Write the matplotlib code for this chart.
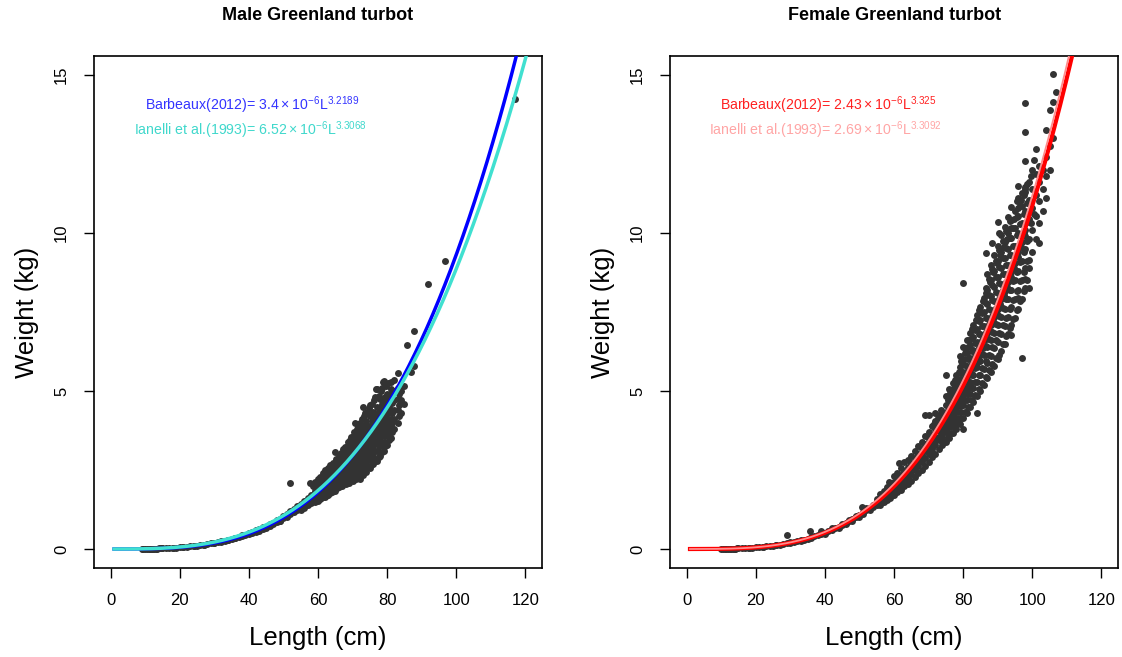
import numpy as np
import matplotlib
matplotlib.use("Agg")
import matplotlib.pyplot as plt

plt.rcParams['font.family'] = ['Liberation Sans', 'DejaVu Sans']
plt.rcParams['mathtext.default'] = 'regular'

# ---- male observations (length cm, weight kg) ----
male_len = [
    9, 9.5, 10, 10.5, 11, 11.5, 12, 12.5, 13, 13.5, 14, 14.5, 15,
    16, 17, 18, 19, 20, 21, 22, 23, 24, 25, 26, 27, 28, 29, 30, 31, 32,
    33, 34, 35, 36, 37, 38, 39, 40, 41, 42, 43, 44, 45, 46, 47, 48,
    12, 15, 18, 21, 24, 27, 30, 32, 34, 36, 38, 40, 41, 42, 43, 44, 45, 46, 47, 48, 49, 49,
    49, 50, 50, 51, 51, 52, 52, 52, 53, 53, 54, 54, 55, 55, 55, 56, 56, 56, 57, 57, 57, 58, 58, 58, 58,
    59, 59, 59, 59, 59,
    59.5, 59.5, 59.5, 59.5,
    60, 60, 60, 60, 60,
    60.5, 60.5, 60.5, 60.5, 60.5,
    61, 61, 61, 61, 61, 61,
    61.5, 61.5, 61.5, 61.5, 61.5,
    62, 62, 62, 62, 62, 62,
    62.5, 62.5, 62.5, 62.5, 62.5,
    63, 63, 63, 63, 63, 63,
    63.5, 63.5, 63.5, 63.5, 63.5, 63.5,
    64, 64, 64, 64, 64, 64,
    64.5, 64.5, 64.5, 64.5, 64.5, 64.5,
    65, 65, 65, 65, 65, 65, 65,
    65.5, 65.5, 65.5, 65.5, 65.5, 65.5,
    66, 66, 66, 66, 66, 66, 66,
    66.5, 66.5, 66.5, 66.5, 66.5, 66.5,
    67, 67, 67, 67, 67, 67, 67,
    67.5, 67.5, 67.5, 67.5, 67.5, 67.5,
    68, 68, 68, 68, 68, 68, 68,
    68.5, 68.5, 68.5, 68.5, 68.5, 68.5,
    69, 69, 69, 69, 69, 69, 69,
    69.5, 69.5, 69.5, 69.5, 69.5, 69.5,
    70, 70, 70, 70, 70, 70, 70,
    70.5, 70.5, 70.5, 70.5, 70.5, 70.5,
    71, 71, 71, 71, 71, 71, 71,
    71.5, 71.5, 71.5, 71.5, 71.5, 71.5,
    72, 72, 72, 72, 72, 72, 72,
    72.5, 72.5, 72.5, 72.5, 72.5, 72.5,
    73, 73, 73, 73, 73, 73, 73, 73,
    73.5, 73.5, 73.5, 73.5, 73.5, 73.5,
    74, 74, 74, 74, 74, 74, 74,
    74.5, 74.5, 74.5, 74.5, 74.5, 74.5,
    75, 75, 75, 75, 75, 75, 75,
    75.5, 75.5, 75.5, 75.5, 75.5, 75.5,
    76, 76, 76, 76, 76, 76, 76,
    76.5, 76.5, 76.5, 76.5, 76.5, 76.5,
    77, 77, 77, 77, 77, 77, 77, 77,
    77.5, 77.5, 77.5, 77.5, 77.5, 77.5,
    78, 78, 78, 78, 78, 78, 78,
    78.5, 78.5, 78.5, 78.5, 78.5, 78.5,
    79, 79, 79, 79, 79, 79, 79,
    79.5, 79.5, 79.5, 79.5, 79.5, 79.5,
    80, 80, 80, 80, 80, 80,
    80.5, 80.5, 80.5, 80.5, 80.5,
    81, 81, 81, 81, 81, 81,
    81.5, 81.5, 81.5, 81.5, 81.5,
    82, 82, 82, 82, 82,
    83, 83, 83, 83, 83,
    83.5, 83.5, 83.5,
    84, 84, 84,
    85, 85,
    85.8, 87.0, 87.9, 87.9, 91.8, 96.8, 117.1,
    # upper edge of the cloud
    57.7, 58.5, 59.2, 60.0, 60.6, 61.5, 62.0, 63.0, 63.5, 64.4, 65.2, 66.0, 66.5,
    67.2, 67.8, 68.3, 68.7, 69.2, 69.6, 70.1, 70.5, 70.7, 71.2, 71.6, 72.1, 72.6,
    73.2, 73.7, 74.2, 74.6, 75.1, 75.6, 76.1, 76.6, 76.8, 77.6, 78.1, 78.6, 78.9,
    79.6, 80.1, 81.0, 82.0,
]
male_wt = [
    0.005, 0.006, 0.006, 0.008, 0.008, 0.009, 0.011, 0.012, 0.013, 0.015, 0.017, 0.019, 0.021,
    0.026, 0.030, 0.038, 0.044, 0.052, 0.060, 0.070, 0.082, 0.095, 0.105, 0.125, 0.140, 0.150, 0.175, 0.19, 0.21, 0.24,
    0.26, 0.28, 0.32, 0.34, 0.39, 0.40, 0.45, 0.47, 0.53, 0.55, 0.62, 0.64, 0.71, 0.74, 0.82, 0.85,
    0.009, 0.018, 0.034, 0.058, 0.090, 0.130, 0.200, 0.220, 0.300, 0.360, 0.430, 0.510, 0.500, 0.600, 0.580, 0.700, 0.680, 0.800, 0.780, 0.920, 0.900, 0.950,
    0.88, 0.98, 1.05, 1.02, 1.12, 1.10, 1.20, 2.10, 1.18, 1.28, 1.22, 1.35, 1.30, 1.42, 1.25, 1.38, 1.52, 1.30, 1.45, 1.60, 1.40, 1.50, 1.70, 1.45, 1.62,
    1.48, 1.60, 1.72, 1.85, 1.95,
    1.54, 1.66, 1.78, 1.90,
    1.52, 1.65, 1.78, 1.90, 2.05,
    1.58, 1.72, 1.85, 1.98, 2.12,
    1.60, 1.72, 1.85, 1.98, 2.12, 2.25,
    1.66, 1.78, 1.92, 2.05, 2.18,
    1.65, 1.80, 1.92, 2.05, 2.20, 2.35,
    1.72, 1.86, 2.00, 2.14, 2.28,
    1.70, 1.85, 2.00, 2.12, 2.28, 2.45,
    1.78, 1.92, 2.06, 2.20, 2.36, 2.52,
    1.80, 1.95, 2.10, 2.25, 2.40, 2.55,
    1.86, 2.02, 2.18, 2.32, 2.48, 2.62,
    1.85, 2.02, 2.18, 2.32, 2.48, 2.65, 3.08,
    1.92, 2.10, 2.25, 2.40, 2.56, 2.72,
    1.95, 2.10, 2.28, 2.42, 2.58, 2.75, 2.90,
    2.02, 2.18, 2.35, 2.50, 2.66, 2.82,
    2.00, 2.18, 2.35, 2.52, 2.70, 2.88, 3.05,
    2.08, 2.26, 2.44, 2.62, 2.80, 2.96,
    2.05, 2.25, 2.42, 2.60, 2.80, 2.98, 3.20,
    2.14, 2.34, 2.52, 2.70, 2.90, 3.08,
    2.10, 2.30, 2.50, 2.70, 2.90, 3.10, 3.35,
    2.20, 2.40, 2.60, 2.80, 3.00, 3.22,
    2.15, 2.38, 2.58, 2.80, 3.00, 3.22, 3.45,
    2.26, 2.48, 2.70, 2.90, 3.12, 3.34,
    2.20, 2.45, 2.68, 2.90, 3.12, 3.35, 3.60,
    2.32, 2.56, 2.80, 3.02, 3.24, 3.48,
    2.20, 2.50, 2.75, 3.00, 3.25, 3.50, 3.75,
    2.38, 2.62, 2.88, 3.12, 3.38, 3.62,
    2.35, 2.60, 2.85, 3.10, 3.35, 3.60, 3.90, 4.50,
    2.48, 2.72, 2.98, 3.22, 3.48, 3.75,
    2.45, 2.72, 2.98, 3.25, 3.50, 3.75, 4.05,
    2.58, 2.85, 3.10, 3.38, 3.62, 3.90,
    2.55, 2.85, 3.10, 3.38, 3.65, 3.90, 4.20,
    2.70, 2.98, 3.24, 3.52, 3.78, 4.05,
    2.70, 2.95, 3.25, 3.50, 3.80, 4.05, 4.35,
    2.82, 3.10, 3.38, 3.65, 3.92, 4.20,
    2.80, 3.10, 3.40, 3.70, 3.95, 4.25, 4.50, 5.05,
    2.92, 3.25, 3.55, 3.82, 4.10, 4.38,
    2.95, 3.25, 3.55, 3.85, 4.15, 4.45, 4.75,
    3.08, 3.40, 3.70, 4.00, 4.30, 4.60,
    3.10, 3.40, 3.75, 4.05, 4.35, 4.70, 5.32,
    3.25, 3.58, 3.90, 4.20, 4.52, 4.82,
    3.30, 3.60, 3.95, 4.30, 4.60, 4.90,
    3.45, 3.78, 4.12, 4.45, 4.78,
    3.50, 3.85, 4.10, 4.40, 4.75, 5.05,
    3.70, 4.00, 4.30, 4.62, 4.92,
    3.80, 4.10, 4.40, 4.70, 5.00,
    4.00, 4.40, 4.75, 5.10, 5.56,
    4.20, 4.55, 4.90,
    4.30, 4.70, 5.00,
    4.60, 5.17,
    6.47, 5.59, 5.80, 6.91, 8.38, 9.11, 14.24,
    2.08, 1.98, 2.12, 2.22, 2.29, 2.40, 2.50, 2.55, 2.65, 2.71, 2.85, 2.95, 3.05,
    3.15, 3.22, 3.24, 3.40, 3.45, 3.55, 3.55, 3.70, 3.98, 3.80, 3.90, 4.00, 4.10,
    4.20, 4.30, 4.35, 4.45, 4.55, 4.60, 4.70, 4.80, 5.05, 4.85, 5.00, 5.10, 5.30,
    5.15, 5.25, 5.30, 5.35,
]

# ---- female observations (length cm, weight kg) ----
female_len = [
    10, 10.5, 11, 11.5, 12, 12.5, 13, 13.5, 14, 14.5, 15,
    16, 17, 18, 19, 20, 21, 22, 23, 24, 25, 26, 27, 28, 29, 30, 31, 32, 33, 34, 35,
    36, 37, 38, 39, 40, 41, 42, 43, 44, 45, 46, 47, 48, 49, 50, 51, 52, 53, 54, 55,
    14, 18, 22, 26, 29, 30, 33, 35.8, 36, 39, 40, 42, 44, 45, 46, 47, 48, 49, 50, 50.8, 51, 52, 53, 54, 55, 55,
    56, 56, 56, 56,
    57, 57, 57, 57,
    58, 58, 58, 58, 58.6,
    59, 59, 59, 59,
    60, 60, 60, 60, 60,
    61, 61, 61, 61, 61, 61.4,
    62, 62, 62, 62, 62,
    63, 63, 63, 63, 63,
    64, 64, 64, 64, 64,
    65, 65, 65, 65, 65,
    66, 66, 66, 66, 66,
    67, 67, 67, 67, 67,
    68, 68, 68, 68, 68,
    69, 69, 69, 69, 69, 69,
    70, 70, 70, 70, 70, 70,
    71, 71, 71, 71, 71,
    72, 72, 72, 72, 72, 72,
    73, 73, 73, 73, 73,
    74, 74, 74, 74, 74,
    74.5, 74.5, 74.5, 74.5,
    75, 75, 75, 75, 75, 75,
    75.5, 75.5, 75.5, 75.5, 75.5,
    76, 76, 76, 76, 76, 76,
    76.5, 76.5, 76.5, 76.5, 76.5,
    77, 77, 77, 77, 77, 77,
    77.5, 77.5, 77.5, 77.5, 77.5,
    78, 78, 78, 78, 78, 78,
    78.5, 78.5, 78.5, 78.5, 78.5,
    79, 79, 79, 79, 79, 79, 79,
    79.5, 79.5, 79.5, 79.5, 79.5, 79.5,
    80, 80, 80, 80, 80, 80, 80, 80, 80,
    80.5, 80.5, 80.5, 80.5, 80.5, 80.5,
    81, 81, 81, 81, 81, 81, 81,
    81.5, 81.5, 81.5, 81.5, 81.5, 81.5,
    82, 82, 82, 82, 82, 82, 82,
    82.5, 82.5, 82.5, 82.5, 82.5, 82.5,
    83, 83, 83, 83, 83, 83, 83,
    83.5, 83.5, 83.5, 83.5, 83.5, 83.5,
    84, 84, 84, 84, 84, 84, 84, 84,
    84.5, 84.5, 84.5, 84.5, 84.5, 84.5,
    85, 85, 85, 85, 85, 85, 85,
    85.5, 85.5, 85.5, 85.5, 85.5, 85.5,
    86, 86, 86, 86, 86, 86, 86,
    86.5, 86.5, 86.5, 86.5, 86.5, 86.5, 86.5, 86.5,
    87, 87, 87, 87, 87, 87, 87, 87,
    87.5, 87.5, 87.5, 87.5, 87.5, 87.5, 87.5,
    88, 88, 88, 88, 88, 88, 88, 88,
    88.5, 88.5, 88.5, 88.5, 88.5, 88.5, 88.5, 88.5,
    89, 89, 89, 89, 89, 89, 89, 89,
    89.5, 89.5, 89.5, 89.5, 89.5, 89.5, 89.5,
    90, 90, 90, 90, 90, 90, 90, 90, 90,
    90.5, 90.5, 90.5, 90.5, 90.5, 90.5, 90.5, 90.5,
    91, 91, 91, 91, 91, 91, 91, 91,
    91.5, 91.5, 91.5, 91.5, 91.5, 91.5, 91.5,
    92, 92, 92, 92, 92, 92, 92, 92,
    92.5, 92.5, 92.5, 92.5, 92.5, 92.5, 92.5,
    93, 93, 93, 93, 93, 93, 93, 93,
    93.5, 93.5, 93.5, 93.5, 93.5, 93.5, 93.5,
    94, 94, 94, 94, 94, 94, 94, 94, 94,
    94.5, 94.5, 94.5, 94.5, 94.5, 94.5,
    95, 95, 95, 95, 95, 95, 95,
    95.5, 95.5, 95.5, 95.5, 95.5, 95.5, 95.5,
    96, 96, 96, 96, 96, 96, 96, 96, 96,
    96.5, 96.5, 96.5, 96.5, 96.5, 96.5,
    97, 97, 97, 97, 97, 97, 97, 97,
    97.5, 97.5, 97.5, 97.5, 97.5, 97.5,
    98, 98, 98, 98, 98, 98, 98, 98, 98, 98, 98,
    98.5, 98.5, 98.5, 98.5, 98.5, 98.5,
    99, 99, 99, 99, 99, 99, 99,
    100, 100, 100, 100, 100,
    101, 101, 101, 101, 101,
    102, 102, 102, 102, 102,
    103, 103, 103,
    104, 104, 104, 104,
    105, 105, 105,
    106, 106, 106,
    107,
    # fish in between the main columns
    70.3, 70.3, 71.7, 71.7, 72.8, 72.8, 73.6, 73.6, 75.2, 75.2, 76.3, 76.3,
    77.8, 77.8, 78.7, 78.7, 79.8, 79.8, 80.8, 80.8, 81.8, 81.8, 82.7, 82.7,
    83.8, 83.8, 84.7, 84.7, 85.8, 85.8, 86.7, 86.7, 87.8, 87.8, 88.7, 88.7,
    89.8, 89.8, 90.7, 90.7, 91.8, 91.8, 92.7, 92.7, 93.8, 93.8, 94.7, 94.7,
    95.8, 95.8, 96.7, 96.7, 97.8, 97.8, 99.5, 99.5, 100.5, 100.5,
]
female_wt = [
    0.005, 0.006, 0.007, 0.008, 0.009, 0.011, 0.012, 0.014, 0.016, 0.018, 0.020,
    0.025, 0.030, 0.036, 0.043, 0.052, 0.060, 0.071, 0.082, 0.094, 0.108, 0.123, 0.140, 0.157, 0.177, 0.198, 0.22, 0.25, 0.27, 0.30, 0.33,
    0.36, 0.40, 0.44, 0.48, 0.52, 0.56, 0.61, 0.66, 0.71, 0.76, 0.82, 0.88, 0.95, 1.01, 1.08, 1.16, 1.23, 1.31, 1.40, 1.49,
    0.014, 0.040, 0.065, 0.115, 0.44, 0.21, 0.25, 0.57, 0.39, 0.58, 0.49, 0.65, 0.67, 0.80, 0.78, 0.92, 0.90, 1.06, 1.02, 1.34, 1.10, 1.30, 1.24, 1.32, 1.58, 1.40,
    1.40, 1.52, 1.62, 1.75,
    1.50, 1.60, 1.72, 1.85,
    1.55, 1.68, 1.80, 1.95, 2.13,
    1.62, 1.78, 1.90, 2.05,
    1.70, 1.85, 1.98, 2.12, 2.30,
    1.80, 1.95, 2.08, 2.22, 2.40, 2.71,
    1.88, 2.05, 2.20, 2.35, 2.55,
    1.98, 2.15, 2.30, 2.48, 2.76,
    2.05, 2.25, 2.42, 2.60, 2.82,
    2.15, 2.38, 2.55, 2.72, 2.95,
    2.28, 2.50, 2.68, 2.88, 3.10,
    2.40, 2.62, 2.82, 3.02, 3.25,
    2.50, 2.75, 2.95, 3.15, 3.40,
    2.62, 2.88, 3.10, 3.32, 3.58, 4.24,
    2.75, 3.00, 3.25, 3.48, 3.71, 4.24,
    2.90, 3.15, 3.40, 3.62, 3.88,
    3.00, 3.30, 3.55, 3.80, 4.05, 4.29,
    3.15, 3.45, 3.72, 3.98, 4.25,
    3.30, 3.55, 3.82, 4.08, 4.35,
    3.42, 3.70, 3.95, 4.22,
    3.40, 3.70, 3.98, 4.25, 4.55, 5.50,
    3.55, 3.85, 4.12, 4.40, 4.70,
    3.50, 3.85, 4.15, 4.45, 4.75, 5.05,
    3.68, 4.00, 4.30, 4.60, 4.90,
    3.66, 4.00, 4.30, 4.62, 4.95, 5.25,
    3.85, 4.18, 4.48, 4.80, 5.10,
    3.80, 4.15, 4.50, 4.82, 5.15, 5.50,
    4.00, 4.35, 4.68, 5.00, 5.32,
    3.95, 4.35, 4.70, 5.02, 5.38, 5.75, 6.10,
    4.15, 4.52, 4.88, 5.22, 5.58, 5.95,
    3.79, 4.15, 4.55, 4.92, 5.25, 5.60, 6.00, 6.40, 8.43,
    4.35, 4.72, 5.10, 5.45, 5.82, 6.20,
    4.30, 4.70, 5.10, 5.45, 5.80, 6.20, 6.60,
    4.50, 4.90, 5.30, 5.65, 6.02, 6.40,
    4.50, 4.90, 5.30, 5.65, 6.05, 6.45, 6.85,
    4.70, 5.10, 5.50, 5.88, 6.28, 6.68,
    4.65, 5.10, 5.50, 5.90, 6.30, 6.70, 7.10,
    4.88, 5.30, 5.72, 6.12, 6.52, 6.92,
    4.29, 4.85, 5.30, 5.75, 6.15, 6.55, 6.95, 7.40,
    5.05, 5.52, 5.95, 6.38, 6.80, 7.22,
    5.00, 5.50, 5.95, 6.40, 6.80, 7.25, 7.65,
    5.25, 5.72, 6.18, 6.62, 7.05, 7.48,
    5.20, 5.70, 6.15, 6.60, 7.05, 7.50, 7.95,
    5.45, 5.95, 6.42, 6.88, 7.32, 7.78, 8.25, 9.38,
    5.40, 5.90, 6.40, 6.85, 7.30, 7.75, 8.20, 8.70,
    5.65, 6.15, 6.65, 7.12, 7.60, 8.05, 8.55,
    5.60, 6.10, 6.60, 7.10, 7.55, 8.00, 8.50, 9.00,
    5.85, 6.38, 6.88, 7.38, 7.88, 8.35, 8.85, 9.67,
    5.80, 6.35, 6.85, 7.35, 7.85, 8.30, 8.80, 9.30,
    6.05, 6.60, 7.12, 7.62, 8.12, 8.62, 9.12,
    6.00, 6.55, 7.10, 7.60, 8.10, 8.60, 9.10, 9.60, 10.36,
    6.14, 6.82, 7.38, 7.90, 8.42, 8.92, 9.45, 9.99,
    6.25, 6.80, 7.35, 7.90, 8.40, 8.90, 9.40, 9.94,
    6.50, 7.08, 7.62, 8.18, 8.70, 9.22, 9.75,
    6.50, 7.05, 7.60, 8.15, 8.70, 9.20, 9.70, 10.20,
    6.75, 7.32, 7.90, 8.45, 9.00, 9.52, 10.05,
    6.80, 7.35, 7.90, 8.45, 9.00, 9.50, 10.00, 10.50,
    7.00, 7.60, 8.18, 8.75, 9.30, 9.85, 10.38,
    6.77, 7.10, 7.65, 8.20, 8.75, 9.30, 9.85, 10.40, 10.83,
    7.28, 7.88, 8.48, 9.05, 9.60, 10.15,
    7.30, 7.90, 8.50, 9.05, 9.60, 10.15, 10.70,
    7.55, 8.15, 8.78, 9.35, 9.92, 10.50, 11.00,
    7.60, 7.93, 8.20, 8.80, 9.40, 10.00, 10.55, 11.10, 11.49,
    7.85, 8.48, 9.08, 9.68, 10.28, 10.85,
    6.05, 7.90, 8.50, 9.10, 9.70, 10.30, 10.85, 11.26,
    8.15, 8.78, 9.40, 10.00, 10.60, 11.20,
    8.25, 8.53, 8.90, 9.50, 10.10, 10.70, 11.30, 11.45, 12.29, 13.20, 14.10,
    8.50, 9.12, 9.75, 10.35, 10.95, 11.55,
    8.25, 9.15, 8.90, 9.80, 10.45, 11.05, 11.60,
    9.40, 10.10, 10.80, 11.40, 12.00,
    9.80, 10.55, 11.20, 11.85, 12.66,
    9.67, 10.30, 11.00, 11.60, 12.12,
    10.70, 11.40, 12.00,
    11.10, 11.80, 12.40, 13.26,
    12.00, 12.75, 13.90,
    13.00, 14.15, 15.03,
    14.47,
    3.10, 3.60, 3.35, 3.95, 3.50, 4.15, 3.60, 4.40, 3.90, 4.85, 4.05, 4.95,
    4.35, 5.35, 4.60, 5.60, 4.80, 5.90, 5.00, 6.35, 5.25, 6.60, 5.55, 6.95,
    5.80, 7.25, 6.10, 7.55, 6.35, 7.85, 6.65, 8.10, 6.90, 8.45, 7.20, 8.75,
    7.45, 9.05, 7.75, 9.30, 8.05, 9.55, 8.30, 9.80, 8.60, 10.15, 8.90, 10.45,
    9.25, 10.80, 9.55, 11.05, 9.90, 11.40, 10.30, 11.80, 10.60, 12.30,
]

# ---- length-weight curves W = a * L^b (as drawn) ----
male_a = [3.4e-6, 6.52e-6]
male_b = [3.2189, 3.0668]
female_a = [2.43e-6, 2.69e-6]
female_b = [3.325, 3.3092]

male_labels = [r'Barbeaux(2012)= $3.4\times10^{-6}L^{3.2189}$',
               r'Ianelli et al.(1993)= $6.52\times10^{-6}L^{3.3068}$']
female_labels = [r'Barbeaux(2012)= $2.43\times10^{-6}L^{3.325}$',
                 r'Ianelli et al.(1993)= $2.69\times10^{-6}L^{3.3092}$']

assert len(male_len) == len(male_wt)
assert len(female_len) == len(female_wt)

fig = plt.figure(figsize=(11.22, 6.57), dpi=100)
ax1 = fig.add_axes([0.0838, 0.1355, 0.3993, 0.7793])
ax2 = fig.add_axes([0.5971, 0.1355, 0.3993, 0.7793])

L = np.linspace(1, 125, 500)


def style(ax):
    ax.set_xlim(-4.8, 124.8)
    ax.set_ylim(-0.6, 15.6)
    ax.set_xticks([0, 20, 40, 60, 80, 100, 120])
    ax.set_yticks([0, 5, 10, 15])
    ax.tick_params(direction='out', length=7, width=1, labelsize=12, pad=11)
    for lab in ax.get_yticklabels():
        lab.set_rotation(90)
        lab.set_va('center')
    for s in ax.spines.values():
        s.set_linewidth(1.2)
    ax.set_xlabel('Length (cm)', fontsize=18.5, labelpad=13)
    ax.set_ylabel('Weight (kg)', fontsize=18.5, labelpad=11)


# male panel
ax1.scatter(male_len, male_wt, s=25, color='#333333', linewidths=0, zorder=2)
ax1.plot(L, male_a[0] * L ** male_b[0], color='blue', lw=2.5, zorder=3)
ax1.plot(L, male_a[1] * L ** male_b[1], color='#40E0D0', lw=2.5, zorder=4)
ax1.text(41, 14.05, male_labels[0], color='#3333FF', fontsize=10.2, ha='center', va='center')
ax1.text(40.5, 13.26, male_labels[1], color='#40D8CC', fontsize=10.2, ha='center', va='center')
style(ax1)

# female panel
ax2.scatter(female_len, female_wt, s=25, color='#333333', linewidths=0, zorder=2)
ax2.plot(L, female_a[0] * L ** female_b[0], color='red', lw=3, zorder=3)
ax2.plot(L, female_a[1] * L ** female_b[1], color='#FF8C8C', lw=1.3, zorder=4)
ax2.text(41, 14.05, female_labels[0], color='#FF2020', fontsize=10.2, ha='center', va='center')
ax2.text(40.3, 13.26, female_labels[1], color='#FFA5A5', fontsize=10.2, ha='center', va='center')
style(ax2)

fig.text(0.2834, 0.977, 'Male Greenland turbot', fontsize=13, fontweight='bold', ha='center', va='center')
fig.text(0.797, 0.977, 'Female Greenland turbot', fontsize=13, fontweight='bold', ha='center', va='center')

fig.savefig('out.png', dpi=100)
